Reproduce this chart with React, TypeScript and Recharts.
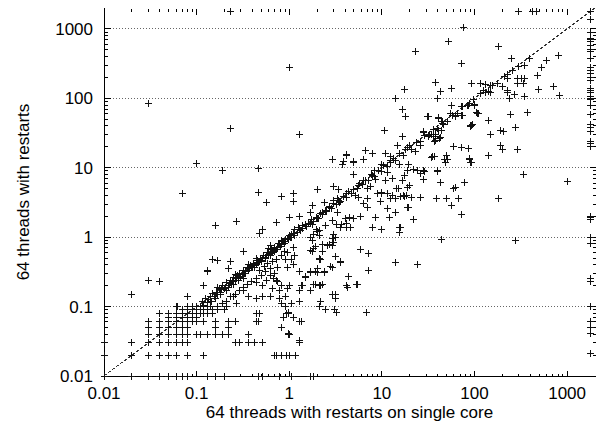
import React from 'react';
import { ScatterChart, Scatter, XAxis, YAxis, ReferenceLine, Label } from 'recharts';

type Pt = [number, number];

// ─── Data (seconds) ──────────────────────────────────────────────────────────

const TIMEOUT = 1800;
const DECADES = [0.01, 0.1, 1, 10, 100, 1000];
const GRID_Y = [0.1, 1, 10, 100, 1000];

// both runs at the 10 ms clock resolution: a lattice of small times
const LOW_ROWS: Array<[number, number[]]> = [
  [0.01, [0.01, 0.02, 0.03, 0.04, 0.05, 0.06, 0.07, 0.08, 0.13, 0.16, 0.2, 0.47, 0.52, 0.78, 1.06, 1.7, 1.85]],
  [0.02, [0.01, 0.02, 0.03, 0.04, 0.05, 0.06, 0.08, 0.12, 0.7, 0.73, 0.82, 0.93, 1.0, 1.18]],
  [0.03, [0.01, 0.02, 0.03, 0.04, 0.05, 0.06, 0.07, 0.08, 0.26, 0.29, 0.36, 0.42, 0.52, 1.3]],
  [0.04, [0.03, 0.04, 0.05, 0.06, 0.07, 0.08, 0.1, 0.11, 0.13, 0.16, 0.19, 0.22, 0.36, 0.97, 1.0]],
  [0.05, [0.03, 0.04, 0.05, 0.06, 0.07, 0.08, 0.16, 0.22, 0.82]],
  [0.06, [0.03, 0.04, 0.05, 0.06, 0.07, 0.08, 0.09, 0.1, 0.12, 0.16, 0.22, 0.26, 0.44, 0.46, 1.35]],
  [0.07, [0.05, 0.06, 0.07, 0.08, 0.09, 0.1, 0.86, 1.1]],
  [0.08, [0.04, 0.05, 0.06, 0.07, 0.08, 0.09, 0.1, 0.11, 0.12, 0.15, 0.44, 0.48, 0.94, 0.99]],
  [0.09, [0.07, 0.08, 0.09, 0.1, 0.11, 0.12, 0.13, 0.17, 0.2]],
  [0.1, [0.06, 0.08, 0.09, 0.1, 0.11, 0.12, 0.13, 0.14, 0.21, 0.92]],
];

const DIAGONAL: Pt[] = [
  [0.11, 0.1], [0.115, 0.12], [0.12, 0.105], [0.125, 0.13], [0.13, 0.115], [0.135, 0.125],
  [0.14, 0.14], [0.145, 0.12], [0.15, 0.155], [0.155, 0.14], [0.16, 0.13], [0.165, 0.16],
  [0.17, 0.15], [0.175, 0.18], [0.18, 0.16], [0.185, 0.175], [0.19, 0.2], [0.2, 0.18],
  [0.205, 0.19], [0.21, 0.22], [0.22, 0.2], [0.225, 0.215], [0.23, 0.24], [0.24, 0.21],
  [0.245, 0.23], [0.25, 0.26], [0.26, 0.24], [0.27, 0.25], [0.275, 0.28], [0.28, 0.26],
  [0.29, 0.3], [0.3, 0.27], [0.31, 0.29], [0.32, 0.33], [0.33, 0.3], [0.34, 0.32], [0.35, 0.36],
  [0.36, 0.33], [0.37, 0.35], [0.38, 0.39], [0.39, 0.36], [0.4, 0.37], [0.41, 0.42], [0.42, 0.39],
  [0.44, 0.41], [0.45, 0.46], [0.46, 0.43], [0.48, 0.45], [0.49, 0.5], [0.5, 0.46], [0.52, 0.49],
  [0.53, 0.55], [0.55, 0.51], [0.57, 0.54], [0.58, 0.6], [0.6, 0.56], [0.62, 0.58], [0.64, 0.66],
  [0.66, 0.6], [0.68, 0.64], [0.7, 0.72], [0.72, 0.67], [0.75, 0.7], [0.77, 0.8], [0.8, 0.74],
  [0.83, 0.79], [0.86, 0.88], [0.88, 0.82], [0.92, 0.87], [0.95, 0.97], [0.98, 0.92], [1.02, 1.0],
  [0.14, 0.12], [0.18, 0.15], [0.22, 0.19], [0.25, 0.21], [0.28, 0.24], [0.34, 0.3], [0.42, 0.37],
  [0.5, 0.44], [0.56, 0.5], [0.62, 0.55], [0.7, 0.62], [0.17, 0.19], [0.26, 0.29], [0.36, 0.41],
  [0.44, 0.49], [0.6, 0.68], [0.82, 0.9],
  [0.13, 0.08], [0.15, 0.09], [0.17, 0.1], [0.19, 0.11], [0.21, 0.12], [0.23, 0.14], [0.26, 0.15],
  [0.29, 0.17], [0.32, 0.19], [0.35, 0.21], [0.39, 0.23], [0.44, 0.25], [0.5, 0.28], [0.56, 0.32],
  [0.62, 0.35],
  [1.05, 1.0], [1.1, 1.12], [1.15, 1.06], [1.22, 1.18], [1.28, 1.3], [1.33, 1.24], [1.4, 1.33],
  [1.48, 1.5], [1.55, 1.44], [1.6, 1.58], [1.68, 1.55], [1.75, 1.78], [1.85, 1.7], [1.95, 1.93],
  [2.05, 1.88], [2.15, 2.2], [2.3, 2.12], [2.45, 2.4], [2.55, 2.35], [2.7, 2.75], [2.85, 2.62],
  [3.0, 3.05], [3.2, 2.95], [3.4, 3.35], [3.6, 3.3], [3.85, 3.8], [4.1, 3.75], [4.4, 4.5],
  [4.7, 4.3], [5.0, 4.9], [5.4, 5.0], [5.8, 5.9], [6.2, 5.7], [6.7, 6.6], [7.2, 6.5], [7.8, 7.9],
  [8.4, 7.6], [9.1, 9.0], [9.8, 8.9], [10.5, 10.6],
  [11.5, 10.4], [12.5, 12.8], [14, 12.6], [15.5, 15.8], [17, 15.2], [19, 19.5], [21, 18.6],
  [23.5, 23], [26, 23.5], [29, 29.5], [32, 28.5], [36, 36], [40, 37], [45, 46], [51, 47], [58, 57],
  [66, 60], [75, 76], [85, 80], [98, 95], [115, 118], [130, 122], [150, 152], [175, 165],
  [210, 205], [300, 290],
];

const SUB_SECOND: Pt[] = [
  [0.02, 0.15], [0.03, 0.24], [0.04, 0.23], [0.12, 0.2], [0.13, 0.32], [0.13, 0.33], [0.15, 0.48],
  [0.17, 0.46], [0.23, 0.45], [0.22, 0.35], [0.32, 0.62], [0.062, 0.1], [0.08, 0.14],
  [0.44, 0.13], [0.52, 0.14], [0.79, 0.13], [1.05, 0.11], [0.94, 0.08], [1.35, 0.06], [0.82, 0.05],
  [0.67, 0.25], [0.82, 0.2], [0.79, 0.17], [0.9, 0.14], [0.62, 0.14], [0.82, 0.11], [1.0, 0.2],
  [0.95, 0.18], [1.3, 0.12], [0.32, 0.25], [0.44, 0.22], [0.57, 0.24], [0.32, 0.17], [0.36, 0.14],
  [0.25, 0.14], [0.21, 0.17], [0.27, 0.11], [0.21, 0.1], [0.78, 0.13], [0.92, 0.1], [0.86, 0.07],
  [0.99, 0.081], [1.1, 0.07], [1.3, 0.06], [0.98, 0.041], [1.3, 0.033],
  [0.63, 0.77], [0.69, 0.68], [0.78, 0.82], [0.84, 0.87], [0.92, 0.93], [1.0, 1.06], [1.05, 1.1],
  [1.13, 1.3], [1.25, 1.4], [1.4, 1.47], [0.72, 0.48], [0.82, 0.54], [0.92, 0.48], [1.05, 0.48],
  [1.1, 0.41], [0.96, 0.37], [0.75, 0.37], [0.69, 0.3], [0.75, 0.23], [0.83, 0.2], [0.66, 0.18],
  [0.72, 0.24], [1.13, 0.54], [0.96, 0.6], [1.1, 0.7], [0.58, 0.42], [0.66, 0.45], [0.48, 0.33],
  [0.54, 0.38], [0.88, 0.62], [0.62, 0.28], [0.52, 0.2],
];

const SECONDS: Pt[] = [
  [1.85, 1.1], [2.0, 1.2], [2.1, 1.06], [1.7, 1.0], [3.0, 1.1], [3.15, 1.0], [3.0, 0.85], [2.7, 0.78],
  [2.3, 0.78], [2.3, 0.63], [1.85, 0.68], [1.8, 0.63], [2.1, 0.48], [2.2, 0.48], [3.15, 0.52],
  [3.6, 0.44], [2.9, 0.36], [1.9, 0.32], [2.0, 0.31], [1.7, 0.31], [2.4, 0.31], [1.5, 0.27],
  [1.3, 0.32], [1.3, 0.17], [1.4, 0.2], [1.7, 0.17], [1.85, 0.21], [2.1, 0.2], [2.3, 0.21],
  [4.4, 0.27], [4.2, 0.2], [5.3, 0.21], [2.9, 0.15], [3.15, 0.15], [3.15, 0.13], [2.15, 0.12],
  [2.1, 0.1], [2.45, 0.09], [3.1, 0.09], [3.2, 0.081], [6.8, 0.081], [5.9, 0.66], [7.2, 0.58],
  [7.2, 0.33], [14, 0.43], [24, 0.4], [1.5, 0.26], [1.7, 0.32], [2.0, 0.35], [2.4, 0.32],
  [1.9, 0.21], [2.2, 0.2], [1.35, 0.2], [2.8, 0.38], [3.6, 0.43], [2.6, 0.77], [2.9, 0.77],
  [1.9, 0.73], [2.1, 0.5], [1.7, 0.65], [1.8, 0.9], [1.95, 1.28], [2.9, 0.96], [3.6, 1.4],
  [4.1, 1.4], [4.6, 1.4], [8.6, 1.9], [10, 1.27], [12, 1.95], [15.5, 1.4], [15.5, 1.15], [22, 1.8],
  [8, 1.4], [10, 1.3], [16, 1.4], [2.9, 1.75], [3.2, 1.5], [3.7, 1.5], [4.2, 1.55], [4.5, 1.95],
  [3.3, 2.25], [4.0, 1.85], [4.9, 1.85], [5.9, 2.0], [2.45, 1.45], [1.8, 1.5], [2.1, 1.25],
  [1.4, 1.45], [1.7, 2.25], [2.3, 2.3], [2.0, 1.85], [1.8, 2.9], [9.6, 3.3], [11.5, 2.6], [14, 2.3],
  [19, 2.7], [4.3, 0.19], [5.4, 0.21],
  [0.83, 3.8], [1.1, 4.2], [1.1, 3.3], [0.73, 1.6], [1.0, 1.95], [1.3, 2.0], [2.4, 3.2], [2.7, 2.7],
  [3.0, 3.4], [3.3, 3.6], [3.5, 3.2], [3.9, 3.8], [4.2, 4.2], [5.2, 4.0], [5.6, 3.7], [6.4, 3.1],
  [7.0, 3.6], [7.0, 2.7], [9, 4.2], [10, 4.2], [11.5, 4.2], [13, 4], [17, 4], [18.5, 4], [21, 3.7],
  [26, 3.7], [9.8, 4.4], [12.5, 3.6], [16, 3.8], [17.5, 3.8], [19.5, 2.7], [15, 5.1], [19, 5.2],
  [14, 3.6], [0.47, 4.4], [0.57, 3.2], [0.52, 1.27], [0.48, 1.13], [0.16, 1.45], [0.27, 1.67], [0.07, 4.2],
];

const TENS: Pt[] = [
  [2.9, 13], [4.2, 15], [3.8, 11], [5, 12], [6.6, 18], [8, 16], [6.3, 13], [11, 16], [10, 11],
  [13.5, 13.5], [12.5, 12], [15.5, 11], [19.5, 11], [19, 9], [24, 9], [26, 8.3], [28.5, 9.2], [34, 14],
  [4.9, 8], [8.3, 9], [8, 7.8], [11.5, 8.5], [8.6, 6.7], [11, 6.5], [13, 7], [16.5, 6.5], [17.5, 7.7],
  [20, 5.6], [14.5, 5], [3, 5.4], [2, 4.8], [3.4, 4.8], [5.6, 5.6], [6.4, 6.5], [7, 5], [7.6, 5.4],
  [5.5, 5], [29, 8.8], [40, 8.8], [28, 6.8], [22, 9.4], [35, 14.5], [51, 13], [49, 12], [9.8, 11.2],
  [12.5, 14.5], [4.2, 15.5], [3.9, 12.5], [5.0, 12.5], [14.8, 21], [18, 18.5], [20, 21], [23, 17],
  [26, 21], [10.8, 34], [16.5, 28], [28.5, 33], [32, 29], [34.5, 30], [1.3, 30], [14, 98], [17.5, 136],
  [16.5, 70], [17.8, 54], [32, 54], [23, 470], [1.0, 275],
  [0.03, 85], [0.23, 37], [0.1, 11.5], [0.19, 9.2], [0.46, 9.8],
];

const HUNDREDS: Pt[] = [
  [77, 1050], [53, 650], [180, 550], [72, 320], [250, 370], [390, 380], [600, 350], [800, 420],
  [350, 300], [530, 280], [480, 210], [260, 250], [225, 220], [290, 190], [320, 190], [350, 190],
  [290, 165], [340, 165], [230, 190], [200, 150], [230, 130], [230, 120], [490, 135], [720, 150],
  [830, 108], [270, 115], [240, 100], [350, 105], [38, 170], [43, 125], [57, 140], [40, 100],
  [92, 165], [115, 165], [130, 160], [155, 155], [125, 130], [140, 125], [150, 120], [56, 80],
  [72, 77], [86, 80], [100, 80], [105, 62], [110, 60], [55, 60], [63, 56], [75, 56], [140, 48],
  [245, 58], [375, 62], [44, 47], [41, 53], [46, 42], [41, 34], [38, 30], [36, 28], [44, 34], [42, 26],
  [38, 25], [90, 40], [96, 42], [150, 30], [190, 34], [280, 38], [60, 20], [72, 19.5], [86, 19],
  [140, 15], [290, 18.5], [88, 13.5], [92, 12], [50, 15], [48, 13], [51, 13], [37, 14.5], [40, 9],
  [43, 6.2], [78, 6.2], [60, 5], [340, 8], [1000, 6.4], [39, 3.6], [50, 3.6], [56, 2.9], [67, 3.6],
  [72, 2.1], [180, 3.6], [44, 0.92], [280, 0.9], [31, 54], [41, 52], [45, 44], [55, 61], [62, 54],
  [73, 56], [88, 84], [100, 82], [107, 61], [93, 41], [90, 39], [205, 33], [28.5, 32], [33, 30],
  [38, 28.5], [43, 27], [37, 24], [190, 21], [200, 18.5], [88, 13], [90, 12], [43, 6.1], [62, 5.2],
];

// runs that hit the 1800 s limit
const TIMEOUT_SINGLE_Y = [
  1800, 1370, 900, 730, 700, 660, 580, 500, 470, 370, 280, 250, 225, 200, 180, 140, 130, 120, 105,
  100, 95, 80, 58, 42, 38, 33, 24, 22, 20, 2.0, 1.95, 1.8, 1.0, 0.8, 0.25, 0.23, 0.1, 0.061, 0.05,
  0.041, 0.021,
];
const TIMEOUT_PARALLEL_X = [0.23, 300, 420, 470];

const toPoints = (pts: Pt[]) => pts.map(([x, y]) => ({ x, y }));

const lowPoints = LOW_ROWS.flatMap(([y, xs]) => xs.map((x) => ({ x, y })));
const timeoutPoints = [
  ...TIMEOUT_SINGLE_Y.map((y) => ({ x: TIMEOUT, y })),
  ...TIMEOUT_PARALLEL_X.map((x) => ({ x, y: TIMEOUT })),
];

const SERIES = [
  lowPoints,
  toPoints(DIAGONAL),
  toPoints(SUB_SECOND),
  toPoints(SECONDS),
  toPoints(TENS),
  toPoints(HUNDREDS),
  timeoutPoints,
];

// ─── Axes ────────────────────────────────────────────────────────────────────

const DOMAIN: [number, number] = [0.01, 2000];
const MINOR = DECADES.flatMap((d) =>
  [2, 3, 4, 5, 6, 7, 8, 9].map((k) => +(d * k).toPrecision(3))
).filter((v) => v < DOMAIN[1]);
const TICKS = [...DECADES, ...MINOR].sort((a, b) => a - b);

const [LO, HI] = DOMAIN;
const isMajor = (v: number) => DECADES.includes(v);
const tickLen = (v: number) => (isMajor(v) ? 6 : 3);
// fraction of the way along a log axis
const logFrac = (v: number) => (Math.log10(v) - Math.log10(LO)) / (Math.log10(HI) - Math.log10(LO));

// gnuplot-style inward tick marks along the top and right of the frame
const TICK_MARKS = [
  ...TICKS.map((v) => ({ x: v, y: HI, dir: 'down', len: tickLen(v) })),
  ...TICKS.map((v) => ({ x: HI, y: v, dir: 'left', len: tickLen(v) })),
];

const FONT = '"Liberation Sans", Arial, Helvetica, sans-serif';
const FONT_SIZE = 17;

const px = (v: number) => Math.round(v - 0.5) + 0.5;

function TickMark(props: any) {
  const { cx, cy, payload } = props;
  if (cx == null || cy == null || !payload) return null;
  const len = payload.len;
  const x = px(cx);
  const y = px(cy);
  const d = payload.dir === 'down' ? `M${x},${y}V${y + len}` : `M${x},${y}H${x - len}`;
  return <path d={d} stroke="#000" strokeWidth={1} fill="none" />;
}

function AxisLabel(props: any) {
  const { payload, side } = props;
  const v = payload.value;
  if (!isMajor(v)) return <g />;
  if (side === 'bottom') {
    return (
      <text x={props.x} y={props.y + 23} textAnchor="middle" fill="#000" fontFamily={FONT} fontSize={FONT_SIZE}>
        {String(v)}
      </text>
    );
  }
  return (
    <text x={props.x - 11} y={props.y + 6} textAnchor="end" fill="#000" fontFamily={FONT} fontSize={FONT_SIZE}>
      {String(v)}
    </text>
  );
}

function Cross(props: any) {
  const { cx, cy } = props;
  if (cx == null || cy == null) return null;
  const x = px(cx);
  const y = px(cy);
  return (
    <path
      d={`M${x - 3.5},${y}H${x + 3.5}M${x},${y - 3.5}V${y + 3.5}`}
      stroke="#111"
      strokeWidth={1}
      fill="none"
    />
  );
}

const axisCommon = {
  type: 'number' as const,
  scale: 'log' as const,
  domain: DOMAIN,
  ticks: TICKS,
  interval: 0 as const,
  tickSize: 0,
  tickMargin: 0,
  tickLine: false,
  stroke: '#000',
};

export default function App() {
  return (
    <div style={{ width: 601, height: 430, background: '#fff' }}>
      <style>{'body{margin:0;} .recharts-surface{shape-rendering:crispEdges;}'}</style>
      <ScatterChart width={601} height={430} margin={{ top: 8, right: 6, bottom: 0, left: 0 }}>
        <XAxis {...axisCommon} xAxisId="top" orientation="top" dataKey="x" height={0} tick={false} />
        <XAxis
          {...axisCommon}
          dataKey="x"
          height={54}
          tick={(p: any) => <AxisLabel {...p} side="bottom" />}
        >
          <Label
            content={(p: any) => {
              const vb = p.viewBox;
              return (
                <g>
                  {TICKS.map((v) => {
                    const x = px(vb.x + logFrac(v) * vb.width);
                    const y = px(vb.y);
                    return <path key={v} d={`M${x},${y}V${y - tickLen(v)}`} stroke="#000" strokeWidth={1} />;
                  })}
                  <text
                    x={vb.x + vb.width / 2}
                    y={vb.y + 42}
                    textAnchor="middle"
                    fill="#000"
                    fontFamily={FONT}
                    fontSize={FONT_SIZE}
                  >
                    64 threads with restarts on single core
                  </text>
                </g>
              );
            }}
          />
        </XAxis>
        <YAxis
          {...axisCommon}
          dataKey="y"
          width={104}
          tick={(p: any) => <AxisLabel {...p} side="left" />}
        >
          <Label
            content={(p: any) => {
              const vb = p.viewBox;
              const cx = vb.x + 28.5;
              const cy = vb.y + vb.height / 2;
              return (
                <g>
                  {TICKS.map((v) => {
                    const x = px(vb.x + vb.width);
                    const y = px(vb.y + vb.height - logFrac(v) * vb.height);
                    return <path key={v} d={`M${x},${y}H${x + tickLen(v)}`} stroke="#000" strokeWidth={1} />;
                  })}
                  <text
                    x={cx}
                    y={cy}
                    transform={`rotate(-90, ${cx}, ${cy})`}
                    textAnchor="middle"
                    fill="#000"
                    fontFamily={FONT}
                    fontSize={FONT_SIZE}
                  >
                    64 threads with restarts
                  </text>
                </g>
              );
            }}
          />
        </YAxis>
        <YAxis {...axisCommon} yAxisId="right" orientation="right" dataKey="y" width={0} tick={false} />
        {GRID_Y.map((v) => (
          <ReferenceLine key={v} y={v} stroke="#666" strokeDasharray="1 2" ifOverflow="visible" />
        ))}
        <ReferenceLine
          segment={[
            { x: LO, y: LO },
            { x: HI, y: HI },
          ]}
          stroke="#333"
          strokeDasharray="3 2"
          ifOverflow="visible"
        />
        <Scatter data={TICK_MARKS} shape={<TickMark />} isAnimationActive={false} />
        {SERIES.map((data, i) => (
          <Scatter key={i} data={data} shape={<Cross />} isAnimationActive={false} />
        ))}
      </ScatterChart>
    </div>
  );
}
